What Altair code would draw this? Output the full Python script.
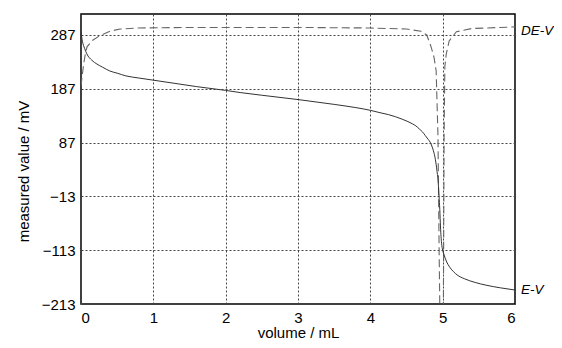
import altair as alt
import pandas as pd

# E-V titration curve (volume mL, potential mV)
ev_volume = [0.0, 0.02, 0.05, 0.08, 0.15, 0.22, 0.3, 0.4, 0.5, 0.62, 0.8, 1.0, 1.3, 1.6,
             2.0, 2.2, 2.5, 3.0, 3.5, 3.8, 4.0, 4.12, 4.25, 4.35, 4.45, 4.52, 4.58, 4.63,
             4.68, 4.72, 4.76, 4.8, 4.83, 4.86, 4.88, 4.9, 4.92, 4.94, 4.95, 4.96, 4.97,
             4.985, 5.0, 5.02, 5.05, 5.1, 5.15, 5.2, 5.3, 5.45, 5.6, 5.8, 6.0]
ev_value = [292, 275, 262, 252, 240, 233, 227, 220, 216, 211, 207, 203, 197, 191,
            184, 180, 175, 167, 158, 152, 147, 143, 139, 135, 130, 126, 122, 118,
            112, 107, 100, 93, 87, 77, 68, 55, 36, 10, -13, -37, -70,
            -100, -113, -122, -133, -145, -153, -159, -166, -173, -178, -183, -187]

# DE-V derivative curve (scaled)
de_volume = [0.0, 0.02, 0.037, 0.06, 0.083, 0.15, 0.25, 0.4, 0.54, 0.8, 1.5, 3.0,
             4.0, 4.5, 4.7, 4.78, 4.84, 4.88, 4.91, 4.935, 4.95, 4.96, 4.99, 5.01,
             5.02, 5.03, 5.05, 5.09, 5.19, 5.4, 6.0]
de_value = [192, 215, 233, 252, 265, 276, 285, 294, 298, 300, 301, 301,
            300, 298, 294, 287, 265, 246, 220, 100, -100, -213, -500, -213,
            100, 228, 252, 276, 293, 299, 302]

y_ticks = [-213, -113, -13, 87, 187, 287]
x_ticks = [0, 1, 2, 3, 4, 5, 6]

series_names = ["DE-V", "E-V"]
label_volume = [6, 6]
label_value = [294, -187]

FONT = "Liberation Sans"

ev = pd.DataFrame({"volume": ev_volume, "value": ev_value})
de = pd.DataFrame({"volume": de_volume, "value": de_value})
labels = pd.DataFrame({"volume": label_volume, "value": label_value, "name": series_names})

x_scale = alt.Scale(domain=[0, 6], nice=False)
y_scale = alt.Scale(domain=[-213, 326], nice=False)

x_enc = alt.X("volume:Q", scale=x_scale,
              axis=alt.Axis(values=x_ticks, format="d", title="volume / mL", grid=True,
                            gridDash=[2, 2], gridColor="#444", gridWidth=1,
                            tickSize=0, domain=False, labelPadding=6,
                            titlePadding=0))
y_enc = alt.Y("value:Q", scale=y_scale,
              axis=alt.Axis(values=y_ticks, format="d", title="measured value / mV", grid=True,
                            gridDash=[2, 2], gridColor="#444", gridWidth=1,
                            tickSize=0, domain=False, labelPadding=6,
                            titlePadding=10, titleY=157))

ev_line = alt.Chart(ev).mark_line(color="#333333", strokeWidth=1, clip=True,
                                  interpolate="monotone").encode(
    x=x_enc, y=y_enc, order="volume:Q")

de_line = alt.Chart(de).mark_line(color="#666666", strokeWidth=1.1, strokeDash=[8, 4],
                                  clip=True).encode(
    x=alt.X("volume:Q", scale=x_scale), y=alt.Y("value:Q", scale=y_scale), order="volume:Q")

text = alt.Chart(labels).mark_text(align="left", baseline="middle", dx=6, fontStyle="italic",
                                   font=FONT, fontSize=13.5, color="#000").encode(
    x=alt.X("volume:Q", scale=x_scale), y=alt.Y("value:Q", scale=y_scale), text="name:N")

chart = alt.layer(de_line, ev_line, text).properties(
    width=434, height=290,
    autosize=alt.AutoSizeParams(type="none"),
    padding={"left": 73, "top": 6, "right": 39, "bottom": 36},
    background="white",
).configure_view(stroke="black", strokeWidth=1.5).configure_axis(
    labelFont=FONT, titleFont=FONT, labelFontSize=15, titleFontSize=15,
    labelColor="#000", titleColor="#000", titleFontWeight="normal"
)

chart.save("out.html", embed_options={"renderer": "svg", "actions": False})
